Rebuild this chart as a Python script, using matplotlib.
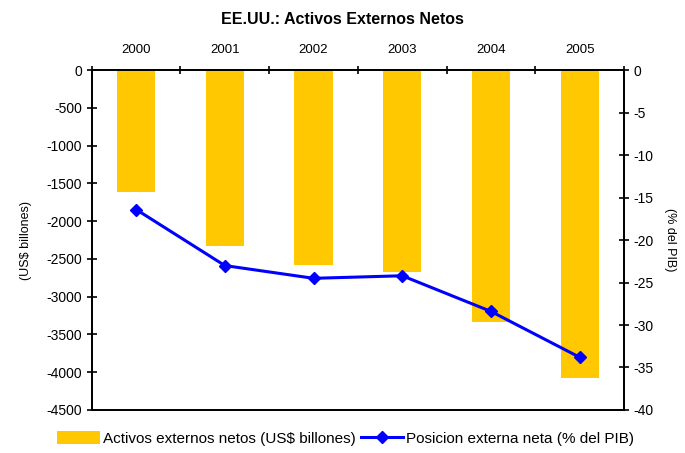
import numpy as np
import matplotlib as mpl
mpl.use('Agg')
from matplotlib import pyplot as plt
from matplotlib.patches import Patch
from matplotlib.lines import Line2D

years = ['2000', '2001', '2002', '2003', '2004', '2005']
activos = [-1615, -2330, -2575, -2675, -3340, -4080]
posicion = [-16.4, -23.0, -24.5, -24.2, -28.4, -33.8]

plt.rcParams['font.family'] = ['Liberation Sans', 'DejaVu Sans']
plt.rcParams['axes.unicode_minus'] = False

fig = plt.figure(figsize=(6.85, 4.53), dpi=100)
ax = fig.add_axes([0.134, 0.095, 0.777, 0.750])
ax2 = ax.twinx()

x = np.arange(len(years))
ax.bar(x, activos, width=0.43, color='#ffc800', zorder=2)
ax.set_xlim(-0.5, len(years) - 0.5)
ax.set_ylim(-4500, 0)
ax.set_yticks(np.arange(-4500, 1, 500))

ax.xaxis.tick_top()
ax.set_xticks(x)
ax.set_xticklabels(years)
ax.set_xticks(np.arange(-0.5, len(years)), minor=True)
ax.tick_params(axis='x', which='major', length=0, pad=10, labelsize=9.5)
ax.tick_params(axis='x', which='minor', length=6, width=1.2, direction='inout')
ax.tick_params(axis='y', length=7, width=1.2, direction='inout', labelsize=10)
ax.set_ylabel('(US$ billones)', fontsize=9, labelpad=10)

ax2.plot(x, posicion, color='#0000ff', lw=2.2, marker='D', ms=6, zorder=3)
ax2.set_ylim(-40, 0)
ax2.set_yticks(np.arange(-40, 1, 5))
ax2.tick_params(axis='y', length=7, width=1.2, direction='inout', labelsize=10)
ax2.set_ylabel('(% del PIB)', fontsize=9, rotation=270, labelpad=16)

for a in (ax, ax2):
    for s in a.spines.values():
        s.set_linewidth(1.3)

fig.text(0.5, 0.958, 'EE.UU.: Activos Externos Netos', ha='center', va='center',
         fontsize=11.5, fontweight='bold')

handles = [
    Patch(facecolor='#ffc800', label='Activos externos netos (US$ billones)'),
    Line2D([], [], color='#0000ff', lw=2.2, marker='D', ms=6,
           label='Posicion externa neta (% del PIB)'),
]
fig.legend(handles=handles, loc='center', bbox_to_anchor=(0.505, 0.033), ncol=2,
           frameon=False, fontsize=11, handlelength=2.8, handleheight=1.0,
           columnspacing=0.3, handletextpad=0.2)

fig.savefig('out.png', dpi=100)
